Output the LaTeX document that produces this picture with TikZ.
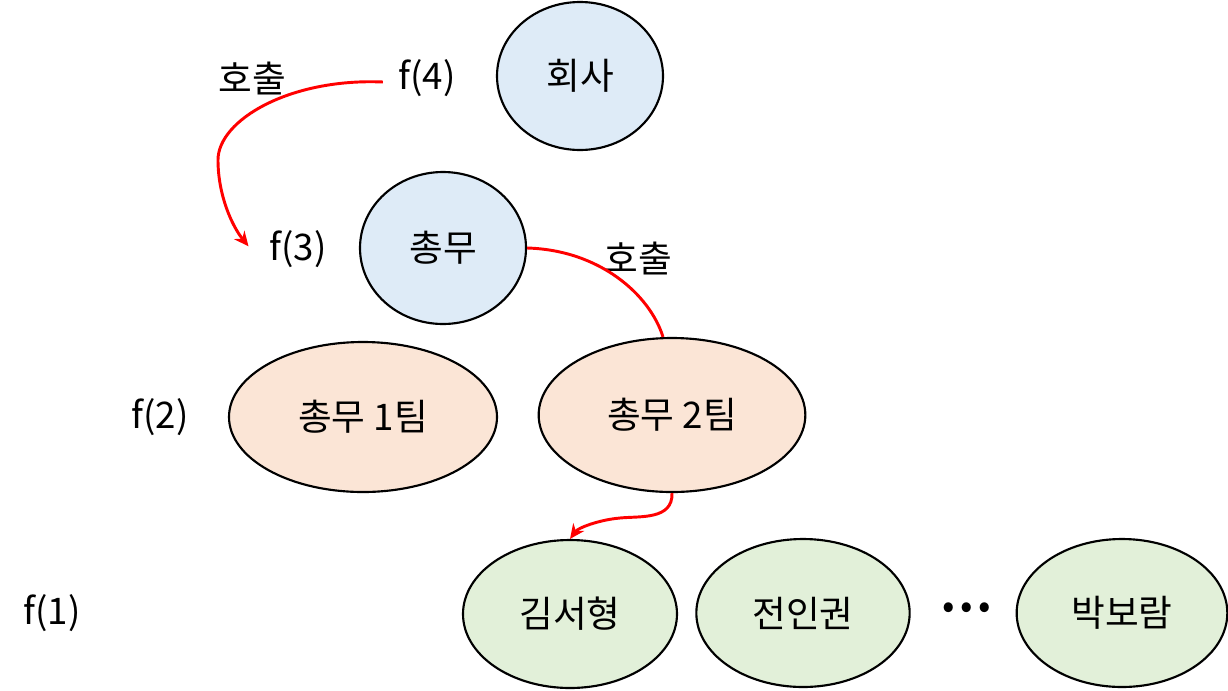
\documentclass[tikz,border=0pt]{standalone}
\usepackage{fontspec}
\setmainfont{Noto Sans CJK KR}
\usetikzlibrary{shapes.geometric,arrows.meta}

\definecolor{boxblue}{RGB}{222,235,247}
\definecolor{boxpeach}{RGB}{251,229,214}
\definecolor{boxgreen}{RGB}{226,240,217}

\tikzset{every picture/.style={line width=0.75pt}}
\tikzset{
  org/.style={ellipse, draw, line width=1.6, inner sep=0pt, font=\fontsize{27.5}{32}\selectfont},
  lbl/.style={font=\fontsize{27.5}{32}\selectfont},
  call/.style={draw={rgb, 255:red, 255; green, 0; blue, 0}, line width=2.2},
}

\begin{document}
\begin{tikzpicture}[x=0.75pt,y=0.75pt,yscale=-1,xscale=1]
\useasboundingbox (0,0) rectangle (1228,690);

%Shape: Ellipse [top]
\node [org, fill=boxblue, minimum width=124.5pt, minimum height=111pt] (hoesa) at (580,76) {회사};
%Shape: Ellipse [second]
\node [org, fill=boxblue, minimum width=124.5pt, minimum height=114pt] (chongmu) at (443,248) {총무};
%Shape: Ellipse [teams]
\node [org, fill=boxpeach, minimum width=201pt, minimum height=112.5pt] (team1) at (363,417) {총무 1팀};
\node [org, fill=boxpeach, minimum width=200pt, minimum height=115.5pt] (team2) at (672,415) {총무 2팀};
%Shape: Ellipse [members]
\node [org, fill=boxgreen, minimum width=160.5pt, minimum height=111pt] (kim) at (570,614) {김서형};
\node [org, fill=boxgreen, minimum width=160pt, minimum height=111pt] (jeon) at (803,613) {전인권};
\node [org, fill=boxgreen, minimum width=158pt, minimum height=111pt] (park) at (1122,613) {박보람};

% Text Node
\node [lbl] (dots) at (967,611) {•\hspace{4pt}•\hspace{4pt}•};
% Text Node
\node [lbl] (f4) at (427,78) {f(4)};
\node [lbl] (f3) at (298,249) {f(3)};
\node [lbl] (f2) at (160,417) {f(2)};
\node [lbl] (f1) at (52,613) {f(1)};
% Text Node
\node [lbl] (call1) at (252,78) {호출};
\node [lbl] (call2) at (638,258) {호출};

%Curve Lines
\draw [call, -{Stealth[length=11pt,width=10pt]}] ([xshift=-8pt,yshift=3pt]f4.west) .. controls (290,78) and (218,120) .. (218,160) .. controls (218,195) and (232,226) .. ([xshift=-12pt,yshift=-2pt]f3.west);
\draw [call] (chongmu.east) .. controls (600,250) and (650,295) .. (team2.north -| 663,0);
\draw [call, -{Stealth[length=11pt,width=10pt]}] (team2.south) .. controls (673,520) and (640,516) .. (620,518) .. controls (598,520) and (578,528) .. (kim.north);

\end{tikzpicture}
\end{document}
